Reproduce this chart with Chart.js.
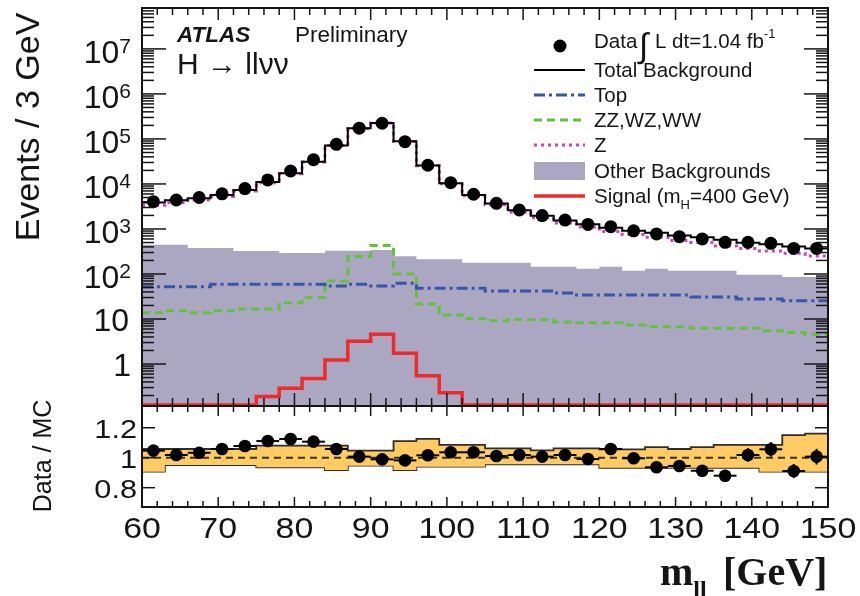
<!DOCTYPE html>
<html>
<head>
<meta charset="utf-8">
<script src="https://cdn.jsdelivr.net/npm/chart.js@4.4.1/dist/chart.umd.min.js"></script>
<style>
  html, body { margin: 0; padding: 0; background: #fff; }
  #wrap { position: relative; width: 860px; height: 596px; }
  #wrap canvas { position: absolute; left: 0; top: 0; }
</style>
</head>
<body>
<div id="wrap">
  <canvas id="mainCanvas" width="860" height="596"></canvas>
  <canvas id="ratioCanvas" width="860" height="596"></canvas>
</div>
<script>
// m_ll bins (lower edges, GeV), 3 GeV wide
var binLow = [60, 63, 66, 69, 72, 75, 78, 81, 84, 87, 90, 93, 96, 99, 102,
              105, 108, 111, 114, 117, 120, 123, 126, 129, 132, 135, 138, 141, 144, 147];
var binWidth = 3;

// events per bin
var dataEvents = [4040, 4400, 5000, 6040, 7900, 12300, 19400, 34600, 76000, 173000,
                  223000, 87000, 26000, 10700, 5900, 3720, 2640, 1980, 1580, 1260,
                  1125, 910, 775, 675, 600, 505, 505, 480, 370, 370];
var totalBkg = [3860, 4320, 4840, 5710, 7330, 11070, 17240, 31250, 71800, 171800,
                225500, 88600, 25600, 10330, 5700, 3680, 2590, 1970, 1550, 1270,
                1060, 914, 828, 714, 657, 574, 496, 455, 406, 367];
var zBkg = [3350, 3810, 4400, 5260, 6930, 10670, 16870, 30870, 71400, 171200,
            224700, 88200, 25300, 10060, 5460, 3450, 2360, 1770, 1360, 1100,
            876, 755, 656, 555, 502, 419, 366, 325, 289, 250];
var topBkg = [52, 52, 52, 59, 59, 59, 59, 59, 54, 59, 54, 62, 48, 48, 48,
              42, 42, 42, 38, 34, 34, 34, 34, 34, 31, 31, 28, 28, 25.5, 25.5];
var dibosonBkg = [13.8, 15.3, 13.8, 15.3, 16.7, 16.7, 23, 30, 70, 245, 430, 100, 21.5, 12.3, 10.3,
                  9.2, 9.8, 9.8, 8.6, 8.3, 8.3, 7.4, 6.7, 6.7, 6.2, 6.2, 6.2, 5.5, 5.0, 4.6];
var otherBkg = [447, 447, 378, 378, 324, 324, 294, 294, 330, 330, 340, 247, 212, 212, 178,
                178, 178, 145, 145, 131, 145, 118, 131, 118, 118, 118, 96, 96, 86, 86];
var signal = [0, 0, 0, 0, 0, 0.19, 0.29, 0.48, 1.23, 3.2, 4.6, 1.73, 0.55, 0.23, 0,
              0, 0, 0, 0, 0, 0, 0, 0, 0, 0, 0, 0, 0, 0, 0];

// Data / MC and the MC uncertainty band
var ratio = [1.047, 1.018, 1.033, 1.058, 1.078, 1.111, 1.125, 1.107, 1.058, 1.007,
             0.989, 0.982, 1.016, 1.036, 1.036, 1.011, 1.018, 1.007, 1.018, 0.991,
             1.058, 0.996, 0.936, 0.945, 0.913, 0.880, 1.018, 1.056, 0.911, 1.007];
var bandUp = [1.058, 1.058, 1.058, 1.058, 1.058, 1.08, 1.08, 1.08, 1.08, 1.047,
              1.047, 1.111, 1.125, 1.085, 1.085, 1.062, 1.062, 1.049, 1.062, 1.062,
              1.056, 1.056, 1.071, 1.058, 1.071, 1.085, 1.085, 1.085, 1.151, 1.16];
var bandDown = [0.907, 0.951, 0.951, 0.951, 0.951, 0.936, 0.936, 0.936, 0.918, 0.947,
                0.947, 0.918, 0.940, 0.940, 0.940, 0.956, 0.956, 0.956, 0.956, 0.956,
                0.933, 0.933, 0.933, 0.933, 0.933, 0.933, 0.933, 0.907, 0.907, 0.907];

// axis ticks
var xTicks = [60, 70, 80, 90, 100, 110, 120, 130, 140, 150];
var logTickExp = [0, 1, 2, 3, 4, 5, 6, 7];
var ratioTicks = [0.8, 1.0, 1.2];
var ratioTickLabels = ['0.8', '1', '1.2'];

var Y_MIN = 0.123, Y_MAX = 8.1e7;
var R_MIN = 0.671, R_MAX = 1.345;

var FONT = "'Liberation Sans', Arial, Helvetica, sans-serif";
var SERIF = "'Liberation Serif', 'Times New Roman', serif";
var INK = '#151515';

var colTop = '#3657a8', colVV = '#62c23c', colZ = '#c845b4', colSig = '#ee2a2a';
var colOther = '#aba7c3', colBand = '#ffcb62';
var dashTop = [11, 4, 3, 4], dashVV = [8, 5], dashZ = [3, 4];

function histPoints(vals) {
  var pts = [];
  for (var i = 0; i < vals.length; i++) pts.push({x: binLow[i], y: vals[i]});
  pts.push({x: binLow[vals.length - 1] + binWidth, y: vals[vals.length - 1]});
  return pts;
}
function centres(vals) {
  return vals.map(function (v, i) { return {x: binLow[i] + binWidth / 2, y: v}; });
}
function histLine(label, vals, color, width, dash) {
  return {
    label: label, data: histPoints(vals), borderColor: color, borderWidth: width,
    borderDash: dash || [], stepped: true, pointRadius: 0, fill: false
  };
}

function seg(ctx, x1, y1, x2, y2) {
  ctx.beginPath(); ctx.moveTo(x1, y1); ctx.lineTo(x2, y2); ctx.stroke();
}
function text(ctx, s, x, y, size, o) {
  o = o || {};
  ctx.save();
  ctx.font = (o.style || '') + ' ' + size + 'px ' + (o.family || FONT);
  ctx.fillStyle = o.color || INK;
  ctx.textAlign = o.align || 'left';
  ctx.textBaseline = 'alphabetic';
  ctx.translate(x, y);
  if (o.rotate) ctx.rotate(o.rotate);
  ctx.scale(o.sx || 1, 1);
  ctx.fillText(s, 0, 0);
  var w = ctx.measureText(s).width * (o.sx || 1);
  ctx.restore();
  return w;
}
function measure(ctx, s, size, style) {
  ctx.save();
  ctx.font = (style || '') + ' ' + size + 'px ' + FONT;
  var w = ctx.measureText(s).width;
  ctx.restore();
  return w;
}

function xTickMarks(ctx, xs, a, lenTop, lenBottom) {
  for (var m = 60; m <= 150; m += 2) {
    var px = xs.getPixelForValue(m);
    var major = (m % 10 === 0);
    seg(ctx, px, a.top, px, a.top + (major ? lenTop[0] : lenTop[1]));
    seg(ctx, px, a.bottom, px, a.bottom - (major ? lenBottom[0] : lenBottom[1]));
  }
}

// frame, ticks, labels, legend and captions of the upper panel
var mainDecor = {
  id: 'mainDecor',
  afterDraw: function (chart) {
    var ctx = chart.ctx, a = chart.chartArea;
    var xs = chart.scales.x, ys = chart.scales.y;
    ctx.save();
    ctx.strokeStyle = INK;
    ctx.lineWidth = 1.5;
    xTickMarks(ctx, xs, a, [12, 7], [12, 7]);
    for (var e = -1; e <= 7; e++) {
      for (var k = 1; k <= 9; k++) {
        var v = k * Math.pow(10, e);
        if (v < Y_MIN || v > Y_MAX) continue;
        var py = ys.getPixelForValue(v);
        var len = (k === 1) ? 24 : 12;
        seg(ctx, a.left, py, a.left + len, py);
        seg(ctx, a.right, py, a.right - len, py);
      }
    }
    // frame; the shared bottom edge sits just under the plot so the
    // signal line along the floor stays visible
    ctx.lineWidth = 2;
    ctx.beginPath();
    ctx.moveTo(a.left, a.bottom + 1);
    ctx.lineTo(a.left, a.top);
    ctx.lineTo(a.right, a.top);
    ctx.lineTo(a.right, a.bottom + 1);
    ctx.stroke();

    // y tick labels: 1, 10, 10^n
    var xr = 131;
    logTickExp.forEach(function (n) {
      var py = ys.getPixelForValue(Math.pow(10, n));
      if (n === 0) { text(ctx, '1', xr, py + 11.5, 32, {align: 'right'}); return; }
      if (n === 1) { text(ctx, '10', xr - 2, py + 11.5, 32, {align: 'right'}); return; }
      var es = String(n);
      var ew = measure(ctx, es, 21);
      text(ctx, '10', xr - ew, py + 14, 32, {align: 'right'});
      text(ctx, es, xr - ew, py + 4, 21);
    });

    text(ctx, 'Events / 3 GeV', 39, 127, 34, {align: 'center', rotate: -Math.PI / 2});

    text(ctx, 'ATLAS', 177, 42, 22.5, {style: 'italic bold'});
    text(ctx, 'Preliminary', 295, 42, 22.5);
    text(ctx, 'H \u2192 ll\u03bd\u03bd', 177, 74, 30);

    // legend
    var lx0 = 534, lx1 = 585, tx = 594, fs = 20.5;
    ctx.fillStyle = '#000';
    ctx.beginPath(); ctx.arc(560, 46, 6.5, 0, 2 * Math.PI); ctx.fill();
    var w = text(ctx, 'Data ', tx, 48, fs);
    text(ctx, '\u222b', tx + w - 4, 57, 34);
    w += text(ctx, 'L dt=1.04 fb', tx + w + 12, 48, fs) + 12;
    text(ctx, '-1', tx + w, 38, 13);

    var rows = [
      {y: 70, label: 'Total Background', color: '#000', width: 2, dash: []},
      {y: 95, label: 'Top', color: colTop, width: 3, dash: dashTop},
      {y: 120, label: 'ZZ,WZ,WW', color: colVV, width: 3, dash: dashVV},
      {y: 145, label: 'Z', color: colZ, width: 3, dash: dashZ},
      {y: 171, label: 'Other Backgrounds', box: true},
      {y: 196, label: 'Signal (m', color: colSig, width: 3.5, dash: []}
    ];
    rows.forEach(function (r) {
      if (r.box) {
        ctx.fillStyle = colOther;
        ctx.fillRect(lx0, r.y - 9, lx1 - lx0, 18);
      } else {
        ctx.save();
        ctx.strokeStyle = r.color; ctx.lineWidth = r.width; ctx.setLineDash(r.dash);
        seg(ctx, lx0, r.y, lx1, r.y);
        ctx.restore();
      }
      var lw = text(ctx, r.label, tx, r.y + 7, fs);
      if (r.label === 'Signal (m') {
        var hw = text(ctx, 'H', tx + lw, r.y + 13, 13);
        text(ctx, '=400 GeV)', tx + lw + hw, r.y + 7, fs);
      }
    });
    ctx.restore();
  }
};

// frame, ticks and labels of the ratio panel
var ratioDecor = {
  id: 'ratioDecor',
  afterDatasetsDraw: function (chart) {
    var ctx = chart.ctx, xs = chart.scales.x, ys = chart.scales.y;
    ctx.save();
    ctx.strokeStyle = '#000';
    ctx.lineWidth = 2;
    for (var i = 0; i < ratio.length; i++) {
      var py = ys.getPixelForValue(ratio[i]);
      var err = ratio[i] / Math.sqrt(dataEvents[i]);
      seg(ctx, xs.getPixelForValue(binLow[i]), py, xs.getPixelForValue(binLow[i] + binWidth), py);
      var pc = xs.getPixelForValue(binLow[i] + binWidth / 2);
      seg(ctx, pc, ys.getPixelForValue(ratio[i] - err), pc, ys.getPixelForValue(ratio[i] + err));
    }
    ctx.restore();
  },
  afterDraw: function (chart) {
    var ctx = chart.ctx, a = chart.chartArea;
    var xs = chart.scales.x, ys = chart.scales.y;
    ctx.save();
    ctx.strokeStyle = INK;
    ctx.lineWidth = 1.5;
    xTickMarks(ctx, xs, a, [10, 6], [10, 6]);
    ratioTicks.forEach(function (t) {
      var py = ys.getPixelForValue(t);
      seg(ctx, a.left, py, a.left + 13, py);
      seg(ctx, a.right, py, a.right - 13, py);
    });
    ctx.lineWidth = 2;
    ctx.strokeRect(a.left, a.top, a.right - a.left, a.bottom - a.top);

    ratioTicks.forEach(function (t, i) {
      text(ctx, ratioTickLabels[i], 137, ys.getPixelForValue(t) + 10, 26, {align: 'right', sx: 1.18});
    });
    xTicks.forEach(function (t) {
      text(ctx, String(t), xs.getPixelForValue(t), 538, 30, {align: 'center', sx: 1.13});
    });
    text(ctx, 'Data / MC', 51, 456, 25, {align: 'center', rotate: -Math.PI / 2});

    // axis title m_ll [GeV]
    var mw = text(ctx, 'm', 660, 585, 40, {style: 'bold', family: SERIF});
    text(ctx, 'll', 660 + mw, 597, 24, {style: 'bold', family: SERIF});
    text(ctx, '[GeV]', 723, 585, 40, {style: 'bold', family: SERIF});
    ctx.restore();
  }
};

var baseOptions = function (padding, yScale) {
  return {
    responsive: false,
    animation: false,
    events: [],
    layout: {padding: padding},
    plugins: {legend: {display: false}, tooltip: {enabled: false}},
    scales: {
      x: {type: 'linear', min: 60, max: 150, bounds: 'data', display: false},
      y: yScale
    }
  };
};

new Chart(document.getElementById('mainCanvas'), {
  type: 'line',
  data: {
    datasets: [
      {label: 'Data', data: centres(dataEvents), showLine: false, pointRadius: 6.5,
       pointBackgroundColor: '#000', pointBorderColor: '#000', pointBorderWidth: 0},
      histLine('Total Background', totalBkg, '#000', 2),
      histLine('Z', zBkg, colZ, 3, dashZ),
      histLine('Top', topBkg, colTop, 3, dashTop),
      histLine('ZZ,WZ,WW', dibosonBkg, colVV, 3, dashVV),
      histLine('Signal', signal.map(function (v) { return v > 0 ? v : Y_MIN; }), colSig, 3.5),
      {label: 'Other Backgrounds', data: histPoints(otherBkg), stepped: true, pointRadius: 0,
       borderWidth: 0, borderColor: colOther, backgroundColor: colOther, fill: 'start'}
    ]
  },
  options: baseOptions({left: 142, right: 32, top: 8, bottom: 191},
    {type: 'logarithmic', min: Y_MIN, max: Y_MAX, bounds: 'data', display: false}),
  plugins: [mainDecor]
});

new Chart(document.getElementById('ratioCanvas'), {
  type: 'line',
  data: {
    datasets: [
      {label: 'Data / MC', data: centres(ratio), showLine: false, pointRadius: 6.3,
       pointBackgroundColor: '#000', pointBorderColor: '#000', pointBorderWidth: 0},
      {label: 'unity', data: [{x: 60, y: 1}, {x: 150, y: 1}], borderColor: '#333',
       borderWidth: 2, borderDash: [7, 5], pointRadius: 0, fill: false},
      {label: 'MC up', data: histPoints(bandUp), stepped: true, pointRadius: 0,
       borderColor: '#2e2e2e', borderWidth: 1.8, backgroundColor: colBand, fill: '+1'},
      {label: 'MC down', data: histPoints(bandDown), stepped: true, pointRadius: 0,
       borderColor: '#2e2e2e', borderWidth: 1.8, fill: false}
    ]
  },
  options: baseOptions({left: 142, right: 32, top: 406, bottom: 89},
    {type: 'linear', min: R_MIN, max: R_MAX, bounds: 'data', display: false}),
  plugins: [ratioDecor]
});
</script>
</body>
</html>
